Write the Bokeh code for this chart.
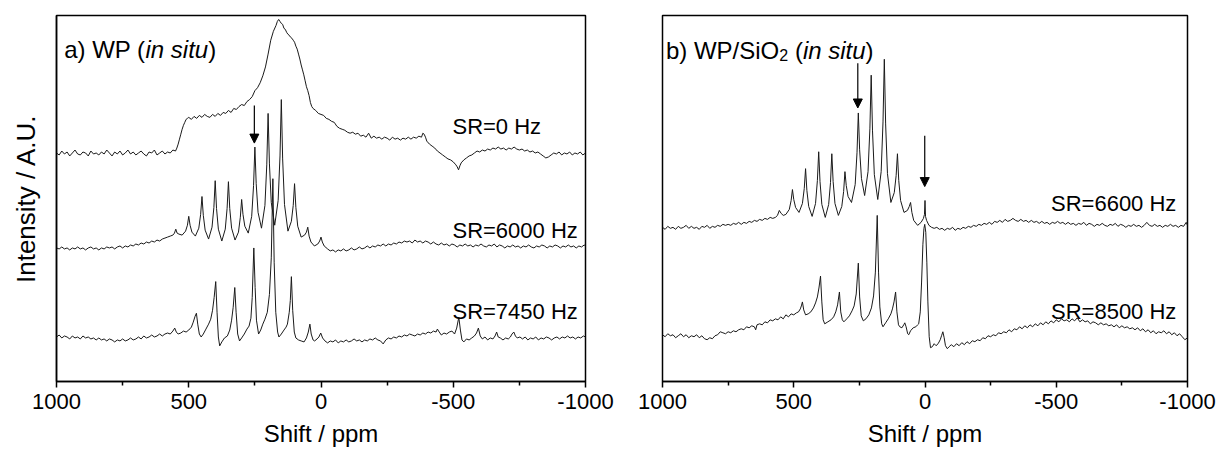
from bokeh.plotting import figure
from bokeh.layouts import row
from bokeh.models import Range1d, FixedTicker, Arrow, NormalHead
from bokeh.core.properties import value
from bokeh.embed import file_html
from bokeh.resources import INLINE

FONT = "Liberation Sans"

# ---------------- axis ticks ----------------
tick_vals = [1000, 500, 0, -500, -1000]
tick_labels = ["1000", "500", "0", "-500", "-1000"]
minor_vals = [750, 250, -250, -750]

# ---------------- panel a: WP (in situ) ----------------
sr0_ppm = [
    1000, 990, 980, 970, 960, 950, 940, 930, 920, 910,
    900, 890, 880, 870, 860, 850, 840, 830, 820, 810,
    800, 790, 780, 770, 760, 750, 740, 730, 720, 710,
    700, 690, 680, 670, 660, 650, 640, 630, 620, 610,
    600, 590, 580, 570, 560, 550, 545, 540, 535, 530,
    525, 520, 515, 510, 505, 500, 490, 480, 470, 460,
    450, 440, 430, 420, 410, 400, 390, 380, 370, 360,
    350, 340, 330, 320, 310, 300, 290, 280, 270, 260,
    250, 240, 230, 220, 210, 200, 190, 180, 170, 165,
    160, 155, 150, 145, 140, 135, 130, 125, 120, 115,
    110, 105, 100, 95, 90, 85, 80, 75, 70, 65,
    60, 55, 50, 45, 40, 35, 30, 20, 10, 0,
    -10, -20, -30, -40, -50, -60, -70, -80, -90, -100,
    -110, -120, -130, -140, -150, -160, -170, -180, -190, -200,
    -210, -220, -230, -240, -250, -260, -270, -280, -290, -300,
    -310, -320, -330, -340, -350, -360, -370, -380, -385, -390,
    -395, -400, -410, -420, -430, -440, -450, -460, -470, -480,
    -490, -500, -510, -515, -520, -525, -530, -540, -550, -560,
    -570, -580, -590, -600, -610, -620, -630, -640, -650, -660,
    -670, -680, -690, -700, -710, -720, -730, -740, -750, -760,
    -770, -780, -790, -800, -810, -820, -830, -840, -850, -860,
    -870, -880, -890, -900, -910, -920, -930, -940, -950, -960,
    -970, -980, -990, -1000]
sr0_int = [
    231, 229, 233, 230, 232, 228, 231, 234, 230, 229,
    232, 231, 228, 233, 230, 231, 229, 232, 230, 234,
    231, 228, 232, 230, 233, 229, 231, 234, 230, 232,
    229, 231, 233, 230, 228, 232, 231, 234, 229, 231,
    233, 230, 232, 231, 234, 233, 236, 240, 245, 250,
    255, 259, 262, 265, 266, 267, 265, 268, 266, 269,
    267, 270, 268, 267, 270, 268, 271, 269, 272, 271,
    274, 272, 276, 275, 278, 280, 279, 283, 285, 288,
    294, 297, 302, 309, 318, 331, 345, 354, 360, 364,
    366, 364, 362, 361, 357, 356, 353, 351, 350, 348,
    347, 345, 343, 339, 336, 331, 326, 320, 315, 310,
    304, 298, 294, 289, 282, 278, 276, 274, 271, 270,
    269, 266, 265, 263, 262, 258, 256, 255, 254, 252,
    251, 252, 250, 251, 248, 249, 247, 251, 246, 248,
    246, 247, 245, 247, 246, 244, 247, 245, 246, 244,
    246, 245, 247, 245, 247, 246, 248, 247, 251, 250,
    247, 243, 240, 238, 236, 233, 231, 229, 227, 225,
    224, 222, 219, 217, 214, 218, 221, 224, 226, 228,
    229, 231, 233, 232, 234, 233, 235, 234, 236, 235,
    237, 235, 236, 234, 236, 235, 237, 235, 234, 235,
    233, 234, 232, 233, 231, 232, 230, 228, 226, 227,
    229, 231, 230, 232, 229, 231, 230, 232, 229, 231,
    230, 232, 229, 231]

sr6000_ppm = [
    1000, 990, 980, 970, 960, 950, 940, 930, 920, 910,
    900, 890, 880, 870, 860, 850, 840, 830, 820, 810,
    800, 790, 780, 770, 760, 750, 740, 730, 720, 710,
    700, 690, 680, 670, 660, 650, 640, 630, 620, 610,
    600, 590, 580, 570, 560, 554, 549, 544, 537, 525,
    512, 505, 500, 495, 488, 475, 462, 455, 450, 445,
    438, 425, 412, 405, 400, 395, 388, 375, 362, 355,
    350, 345, 338, 325, 312, 305, 300, 295, 288, 275,
    262, 255, 250, 245, 238, 225, 212, 205, 200, 195,
    188, 175, 162, 155, 150, 145, 138, 125, 112, 105,
    100, 95, 88, 75, 62, 55, 50, 45, 38, 25,
    12, 5, 0, -5, -12, -25, -35, -45, -55, -65,
    -75, -85, -95, -105, -115, -125, -135, -145, -155, -165,
    -175, -185, -195, -205, -215, -225, -235, -245, -255, -265,
    -275, -285, -295, -305, -315, -325, -335, -345, -355, -365,
    -375, -385, -395, -405, -415, -425, -435, -445, -455, -465,
    -475, -485, -495, -505, -515, -525, -535, -545, -555, -565,
    -575, -585, -595, -605, -615, -625, -635, -645, -655, -665,
    -675, -685, -695, -705, -715, -725, -735, -745, -755, -765,
    -775, -785, -795, -805, -815, -825, -835, -845, -855, -865,
    -875, -885, -895, -905, -915, -925, -935, -945, -955, -965,
    -975, -985, -995, -1000]
sr6000_int = [
    135, 134, 136, 134, 135, 133, 135, 134, 136, 134,
    135, 133, 135, 136, 134, 135, 133, 135, 134, 136,
    135, 136, 134, 136, 137, 135, 137, 136, 138, 137,
    139, 138, 140, 139, 141, 140, 142, 141, 143, 142,
    144, 145, 146, 147, 148, 150, 154, 150, 149, 148,
    152, 158, 167, 158, 151, 147, 155, 169, 187, 168,
    153, 144, 156, 176, 203, 175, 154, 142, 154, 175,
    202, 175, 155, 143, 151, 166, 184, 169, 157, 150,
    167, 198, 237, 200, 171, 155, 178, 219, 271, 220,
    181, 158, 183, 228, 285, 225, 179, 152, 162, 178,
    200, 176, 157, 146, 148, 151, 156, 147, 141, 137,
    139, 142, 146, 141, 137, 134, 132, 133, 131, 133,
    132, 134, 132, 133, 135, 133, 134, 136, 134, 135,
    137, 135, 137, 136, 138, 137, 139, 137, 139, 138,
    140, 139, 141, 140, 142, 141, 142, 140, 143, 141,
    142, 140, 142, 141, 139, 141, 139, 138, 140, 138,
    139, 137, 139, 138, 136, 138, 137, 139, 137, 138,
    136, 138, 137, 139, 137, 136, 138, 137, 139, 136,
    138, 137, 135, 137, 136, 138, 136, 137, 135, 137,
    136, 138, 136, 135, 137, 136, 138, 137, 135, 137,
    136, 138, 137, 135, 137, 136, 138, 136, 137, 135,
    137, 136, 138, 137]

sr7450_ppm = [
    1000, 990, 980, 970, 960, 950, 940, 930, 920, 910,
    900, 890, 880, 870, 860, 850, 840, 830, 820, 810,
    800, 790, 780, 770, 760, 750, 740, 730, 720, 710,
    700, 690, 680, 670, 660, 650, 640, 630, 620, 610,
    600, 590, 580, 570, 560, 553, 547, 540, 530, 520,
    510, 500, 490, 483, 476, 471, 466, 460, 453, 445,
    435, 425, 417, 410, 404, 398, 393, 388, 383, 375,
    365, 354, 345, 338, 332, 326, 321, 315, 308, 300,
    290, 280, 272, 265, 260, 254, 249, 244, 236, 228,
    220, 212, 203, 195, 188, 182, 177, 171, 164, 159,
    150, 140, 132, 127, 120, 116, 112, 107, 101, 95,
    85, 75, 64, 55, 48, 42, 37, 30, 24, 15,
    8, 1, -6, -15, -25, -35, -45, -55, -65, -75,
    -85, -95, -105, -115, -125, -135, -145, -155, -165, -175,
    -185, -195, -205, -215, -225, -235, -245, -255, -265, -275,
    -285, -295, -305, -315, -325, -335, -345, -355, -365, -375,
    -385, -395, -405, -415, -425, -435, -440, -447, -455, -465,
    -475, -485, -495, -505, -513, -521, -527, -533, -540, -550,
    -560, -570, -580, -588, -595, -602, -610, -620, -630, -640,
    -650, -658, -664, -670, -678, -688, -698, -708, -716, -722,
    -729, -735, -742, -752, -762, -772, -782, -792, -802, -812,
    -822, -832, -842, -852, -862, -872, -882, -892, -902, -912,
    -922, -932, -942, -952, -962, -972, -982, -992, -1000]
sr7450_int = [
    45, 47, 44, 46, 45, 43, 46, 44, 45, 43,
    46, 44, 45, 43, 44, 42, 44, 42, 43, 41,
    43, 42, 40, 42, 41, 43, 41, 42, 44, 42,
    43, 45, 43, 46, 44, 45, 47, 45, 46, 48,
    46, 48, 49, 48, 51, 54, 50, 48, 49, 51,
    50, 52, 55, 60, 66, 69, 58, 48, 45, 48,
    53, 58, 63, 72, 85, 101, 70, 45, 36, 40,
    44, 46, 52, 62, 75, 95, 70, 48, 41, 44,
    48, 53, 56, 64, 85, 135, 95, 62, 48, 52,
    58, 63, 70, 88, 125, 205, 120, 70, 50, 45,
    48, 52, 55, 58, 70, 82, 106, 72, 50, 44,
    42, 41, 40, 44, 50, 58, 48, 42, 41, 43,
    45, 49, 44, 41, 39, 41, 40, 42, 39, 41,
    40, 42, 40, 41, 43, 41, 42, 40, 42, 41,
    43, 42, 44, 42, 41, 38, 42, 44, 43, 45,
    44, 46, 45, 47, 46, 48, 47, 46, 48, 47,
    49, 48, 50, 49, 51, 50, 53, 50, 47, 49,
    48, 50, 51, 48, 54, 65, 52, 42, 40, 43,
    42, 44, 46, 49, 54, 46, 43, 45, 42, 44,
    43, 46, 50, 45, 44, 42, 44, 43, 45, 48,
    50, 46, 44, 45, 43, 45, 42, 44, 43, 45,
    42, 44, 43, 45, 44, 42, 44, 45, 43, 45,
    44, 46, 44, 45, 43, 45, 44, 46, 45]

# ---------------- panel b: WP/SiO2 (in situ) ----------------
sr6600_ppm = [
    1000, 990, 980, 970, 960, 950, 940, 930, 920, 910,
    900, 890, 880, 870, 860, 850, 840, 830, 820, 810,
    800, 790, 780, 770, 760, 750, 740, 730, 720, 710,
    700, 690, 680, 670, 660, 650, 640, 630, 620, 610,
    600, 590, 580, 570, 562, 555, 548, 540, 530, 517,
    510, 505, 500, 493, 480, 467, 460, 455, 450, 443,
    430, 417, 410, 405, 400, 393, 380, 367, 360, 355,
    350, 343, 330, 317, 310, 305, 300, 293, 280, 266,
    259, 254, 249, 242, 230, 217, 210, 205, 200, 193,
    180, 167, 160, 155, 150, 143, 130, 117, 110, 105,
    100, 93, 80, 67, 60, 55, 50, 43, 28, 15,
    6, 2, 0, -2, -6, -15, -25, -35, -45, -55,
    -65, -75, -85, -95, -105, -115, -125, -135, -145, -155,
    -165, -175, -185, -195, -205, -215, -225, -235, -245, -255,
    -265, -275, -285, -295, -305, -315, -325, -335, -345, -355,
    -365, -375, -385, -395, -405, -415, -425, -435, -445, -455,
    -465, -475, -485, -495, -505, -515, -525, -535, -545, -555,
    -565, -575, -585, -595, -605, -615, -625, -635, -645, -655,
    -665, -675, -685, -695, -705, -715, -725, -735, -745, -755,
    -765, -775, -785, -795, -805, -815, -825, -835, -845, -855,
    -865, -875, -885, -895, -905, -915, -925, -935, -945, -955,
    -965, -975, -985, -995, -1000]
sr6600_int = [
    155, 153, 156, 154, 155, 153, 156, 154, 155, 157,
    154, 156, 154, 155, 153, 156, 155, 157, 154, 156,
    155, 157, 156, 158, 157, 158, 157, 159, 158, 160,
    158, 160, 159, 161, 160, 162, 161, 163, 162, 164,
    163, 165, 164, 165, 167, 172, 169, 167, 168, 173,
    182, 193, 183, 175, 170, 179, 194, 214, 192, 176,
    166, 179, 202, 231, 201, 178, 165, 178, 200, 229,
    201, 179, 167, 176, 191, 211, 197, 186, 180, 198,
    230, 270, 233, 204, 187, 211, 254, 308, 252, 208,
    183, 211, 261, 324, 259, 209, 180, 190, 207, 229,
    202, 182, 170, 172, 176, 180, 170, 162, 157, 160,
    164, 168, 182, 166, 162, 157, 155, 154, 155, 153,
    154, 152, 154, 153, 155, 152, 154, 153, 155, 154,
    156, 155, 157, 156, 158, 157, 159, 158, 160, 158,
    161, 160, 162, 160, 163, 161, 162, 164, 162, 161,
    163, 161, 162, 160, 162, 160, 161, 159, 161, 159,
    160, 158, 160, 159, 161, 159, 160, 158, 160, 158,
    159, 157, 159, 158, 160, 157, 159, 158, 156, 158,
    157, 159, 157, 156, 158, 157, 159, 156, 158, 157,
    155, 157, 156, 158, 156, 157, 155, 157, 160, 157,
    156, 158, 156, 157, 155, 157, 156, 158, 156, 157,
    155, 157, 156, 160, 157]

sr8500_ppm = [
    1000, 990, 980, 970, 960, 950, 940, 930, 920, 910,
    900, 890, 880, 870, 860, 850, 840, 830, 820, 810,
    800, 790, 780, 770, 760, 750, 740, 730, 720, 710,
    700, 690, 680, 670, 660, 650, 645, 640, 630, 620,
    610, 600, 590, 580, 570, 560, 550, 540, 530, 520,
    510, 500, 490, 482, 475, 471, 467, 462, 455, 445,
    435, 425, 417, 410, 404, 398, 393, 388, 382, 370,
    358, 348, 340, 333, 326, 321, 315, 309, 298, 288,
    278, 270, 262, 254, 249, 243, 235, 225, 214, 204,
    196, 189, 182, 177, 172, 165, 160, 150, 140, 130,
    124, 118, 112, 107, 101, 96, 88, 81, 77, 72,
    66, 62, 55, 45, 35, 28, 24, 18, 13, 8,
    4, 1, -3, -7, -11, -16, -21, -28, -35, -42,
    -50, -58, -63, -68, -73, -78, -85, -92, -100, -110,
    -120, -130, -140, -150, -160, -170, -180, -190, -200, -210,
    -220, -230, -240, -250, -260, -270, -280, -290, -300, -310,
    -320, -330, -340, -350, -360, -370, -380, -390, -400, -410,
    -420, -430, -440, -450, -460, -470, -480, -490, -500, -510,
    -520, -530, -540, -550, -560, -570, -580, -590, -600, -610,
    -620, -630, -640, -650, -660, -670, -680, -690, -700, -710,
    -720, -730, -740, -750, -760, -770, -780, -790, -800, -810,
    -820, -830, -840, -850, -860, -870, -880, -890, -900, -910,
    -920, -930, -940, -950, -960, -970, -980, -990, -1000]
sr8500_int = [
    47, 45, 48, 46, 47, 44, 46, 48, 45, 47,
    44, 46, 45, 47, 44, 46, 43, 42, 44, 43,
    46, 47, 50, 49, 48, 50, 49, 51, 50, 52,
    53, 52, 55, 54, 56, 55, 52, 57, 58, 57,
    60, 59, 62, 61, 63, 62, 65, 63, 67, 65,
    68, 67, 69, 70, 73, 76, 80, 72, 67, 68,
    70, 74, 79, 85, 94, 106, 80, 62, 58, 60,
    62, 65, 70, 77, 90, 70, 62, 60, 63, 66,
    71, 76, 88, 119, 85, 66, 61, 63, 67, 74,
    86, 110, 167, 110, 75, 58, 55, 59, 63, 68,
    73, 80, 90, 70, 57, 55, 54, 57, 59, 55,
    48, 47, 51, 54, 55, 57, 58, 70, 100, 138,
    154, 158, 150, 120, 80, 45, 34, 35, 38, 36,
    38, 42, 46, 50, 44, 36, 33, 35, 37, 35,
    38, 36, 39, 37, 40, 38, 41, 40, 42, 41,
    44, 43, 46, 45, 47, 46, 49, 48, 50, 49,
    52, 50, 53, 52, 55, 53, 56, 54, 57, 55,
    58, 56, 59, 57, 60, 58, 61, 59, 62, 60,
    63, 61, 62, 60, 63, 61, 64, 60, 62, 60,
    61, 58, 60, 59, 57, 59, 57, 58, 56, 57,
    55, 57, 54, 56, 54, 55, 53, 54, 52, 54,
    51, 53, 50, 52, 49, 51, 48, 50, 49, 51,
    48, 50, 47, 49, 46, 48, 45, 42, 44]

# ---------------- annotations ----------------
labels_a = ["SR=0 Hz", "SR=6000 Hz", "SR=7450 Hz"]
labels_a_y = [258, 153, 71]
labels_b = ["SR=6600 Hz", "SR=8500 Hz"]
labels_b_y = [179, 70]
arrows_a = [(252, 279, 241)]            # (ppm, start, tip)
arrows_b = [(256, 320, 275), (1, 247, 196)]


def make_fig(width, left, right, top, ymax, ylabel):
    p = figure(width=width, height=449, x_range=Range1d(1000, -1000),
               y_range=Range1d(0, ymax), output_backend="svg",
               toolbar_location=None, min_border_left=left,
               min_border_right=right, min_border_top=top,
               min_border_bottom=66,
               y_axis_location="left" if ylabel else None)
    p.grid.visible = False
    p.background_fill_color = "white"
    p.border_fill_color = "white"
    p.outline_line_color = "black"
    p.outline_line_width = 1.5
    p.outline_line_alpha = 1.0
    ax = p.xaxis[0]
    ax.ticker = FixedTicker(ticks=tick_vals, minor_ticks=minor_vals)
    ax.major_label_overrides = {v: s for v, s in zip(tick_vals, tick_labels)}
    ax.axis_label = "Shift / ppm"
    ax.axis_label_text_font = FONT
    ax.axis_label_text_font_size = "24px"
    ax.axis_label_text_font_style = "normal"
    ax.axis_label_text_color = "black"
    ax.axis_label_standoff = 8
    ax.major_label_text_font = FONT
    ax.major_label_text_font_size = "22px"
    ax.major_label_text_color = "black"
    ax.major_label_standoff = 6
    ax.axis_line_color = "black"
    ax.axis_line_width = 1.5
    ax.major_tick_line_color = "black"
    ax.minor_tick_line_color = "black"
    ax.major_tick_line_width = 1.5
    ax.minor_tick_line_width = 1.5
    ax.major_tick_out = 6
    ax.major_tick_in = 0
    ax.minor_tick_out = 4
    ax.minor_tick_in = 0
    if ylabel:
        ya = p.yaxis[0]
        ya.ticker = FixedTicker(ticks=[])
        ya.axis_label = ylabel
        ya.axis_label_text_font = FONT
        ya.axis_label_text_font_size = "26px"
        ya.axis_label_text_font_style = "normal"
        ya.axis_label_text_color = "black"
        ya.axis_label_standoff = 16
        ya.major_label_standoff = 0
        ya.major_tick_out = 0
        ya.major_tick_in = 0
        ya.minor_tick_out = 0
        ya.minor_tick_in = 0
        ya.axis_line_color = "black"
        ya.axis_line_width = 1.5
    return p


def add_text(p, x, y, txt, size, style="normal", dx=0, dy=0):
    p.text(x=[x], y=[y], text=[txt], text_font=value(FONT),
           text_font_size=value(size), text_font_style=style,
           text_color="black", text_align="left",
           text_baseline="alphabetic", x_offset=dx, y_offset=dy)


def add_arrows(p, arrows):
    for x, y0, y1 in arrows:
        p.add_layout(Arrow(end=NormalHead(size=9, fill_color="black",
                                          line_color="black", line_width=1),
                           x_start=x, y_start=y0, x_end=x, y_end=y1,
                           line_color="black", line_width=1.2))


LINE = dict(line_color="#1a1a1a", line_width=1)

# ----- panel a -----
pa = make_fig(620, 56, 35, 13, 370, "Intensity / A.U.")
pa.line(sr0_ppm, sr0_int, **LINE)
pa.line(sr6000_ppm, sr6000_int, **LINE)
pa.line(sr7450_ppm, sr7450_int, **LINE)
add_arrows(pa, arrows_a)
for t, y in zip(labels_a, labels_a_y):
    add_text(pa, -497, y, t, "22px")
# title: a) WP (in situ)
add_text(pa, 971, 336, "a) WP (", "24px")
add_text(pa, 971, 336, "in situ", "24px", "italic", dx=81.3)
add_text(pa, 971, 336, ")", "24px", dx=144.0)

# ----- panel b -----
pb = make_fig(598, 42, 31, 15, 368, None)
pb.line(sr6600_ppm, sr6600_int, **LINE)
pb.line(sr8500_ppm, sr8500_int, **LINE)
add_arrows(pb, arrows_b)
for t, y in zip(labels_b, labels_b_y):
    add_text(pb, -480, y, t, "22px")
# title: b) WP/SiO2 (in situ)
add_text(pb, 987, 333, "b) WP/SiO", "24px")
add_text(pb, 987, 333, "2", "16px", dx=113.4, dy=5)
add_text(pb, 987, 333, "(", "24px", dx=129.0)
add_text(pb, 987, 333, "in situ", "24px", "italic", dx=137.0)
add_text(pb, 987, 333, ")", "24px", dx=199.7)

layout = row(pa, pb)
open("out.html", "w").write(file_html(layout, INLINE))
